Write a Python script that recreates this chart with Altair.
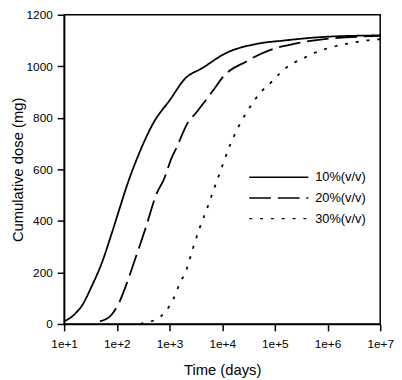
import altair as alt
import pandas as pd

series_names = ["10%(v/v)", "20%(v/v)", "30%(v/v)"]

# 10% (v/v) – solid
t_10 = [10, 15.3, 21.9, 33.5, 51.3, 78.7, 112, 161, 245, 501, 1023, 1950, 4266,
        11480, 47860, 148000, 355000, 1000000, 10000000]
d_10 = [10, 35, 72, 147, 234, 347, 446, 546, 645, 782, 870, 951, 994,
        1050, 1088, 1100, 1108, 1115, 1120]

# 20% (v/v) – dashed
t_20 = [47.9, 78.7, 112, 148, 229, 351, 575, 771, 1100, 1349, 2239, 3200, 7520,
        10000, 28800, 97700, 200000, 355000, 617000, 10000000]
d_20 = [10, 35, 85, 147, 259, 371, 508, 558, 645, 683, 782, 820, 920,
        955, 1019, 1069, 1084, 1095, 1102, 1118]

# 30% (v/v) – dotted
t_30 = [282, 327, 537, 832, 1175, 1585, 2089, 2754, 3715, 5248, 7244, 8710, 14125,
        28840, 54950, 85110, 128800, 199500, 331100, 537000, 831800, 1259000,
        1950000, 2950000, 4570000, 6920000, 10000000]
d_30 = [0, 5, 16, 47, 95, 160, 209, 290, 371, 452, 533, 577, 695,
        820, 901, 938, 976, 1007, 1029, 1050, 1065, 1075,
        1085, 1091, 1098, 1103, 1105]

x_ticks = [1e1, 1e2, 1e3, 1e4, 1e5, 1e6, 1e7]
y_ticks = [0, 200, 400, 600, 800, 1000, 1200]

rows = []
for name, ts, ds in zip(series_names, [t_10, t_20, t_30], [d_10, d_20, d_30]):
    for i, (t, d) in enumerate(zip(ts, ds)):
        rows.append({"series": name, "time": t, "dose": d, "order": i})
df = pd.DataFrame(rows)

FONT = "Liberation Sans"

chart = (
    alt.Chart(df)
    .mark_line(color="black", strokeWidth=1.8, interpolate="monotone")
    .encode(
        x=alt.X(
            "time:Q",
            scale=alt.Scale(type="log", domain=[1e1, 1e7], nice=False),
            axis=alt.Axis(
                values=x_ticks, format=".0e", title="Time (days)",
                tickSize=7, labelPadding=8, titlePadding=13, labelFlush=False,
            ),
        ),
        y=alt.Y(
            "dose:Q",
            scale=alt.Scale(domain=[0, 1200], nice=False),
            axis=alt.Axis(
                values=y_ticks, format="d", title="Cumulative dose (mg)",
                tickSize=7, labelPadding=5, titlePadding=1, labelFlush=False,
            ),
        ),
        strokeDash=alt.StrokeDash(
            "series:N",
            scale=alt.Scale(domain=series_names, range=[[1, 0], [22, 7], [3, 8]]),
            legend=alt.Legend(
                title=None, orient="none", legendX=187, legendY=155,
                symbolType="stroke", symbolSize=3600, symbolStrokeWidth=1.5,
                symbolStrokeColor="black", clipHeight=20, rowPadding=1,
                labelFontSize=13, labelOffset=6, labelFont=FONT,
                labelColor="black", padding=0,
            ),
        ),
        order="order:Q",
    )
    .properties(
        width=321, height=314,
        autosize=alt.AutoSizeParams(type="none"),
        padding={"left": 57, "top": 4, "right": 14, "bottom": 54},
    )
    .configure_view(stroke="black", strokeWidth=1.5)
    .configure_axis(
        grid=False, domainColor="black", domainWidth=1.5, tickColor="black",
        tickWidth=1.5, labelColor="black", titleColor="black", labelFont=FONT,
        titleFont=FONT, labelFontSize=12, titleFontSize=15, titleFontWeight="normal",
    )
)

chart.save("out.html", embed_options={"renderer": "svg", "actions": False})
